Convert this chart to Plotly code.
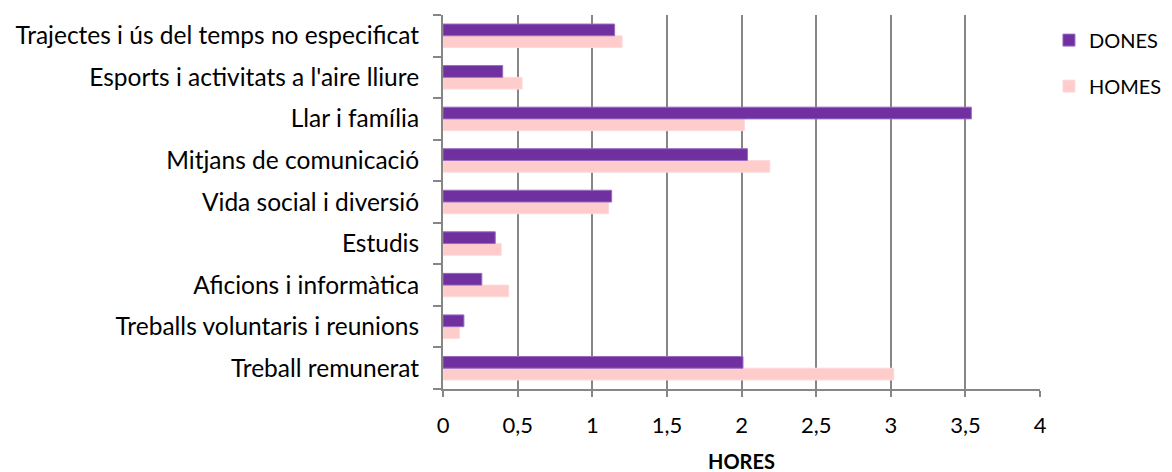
import plotly.graph_objects as go

categories = [
    "Treball remunerat",
    "Treballs voluntaris i reunions",
    "Aficions i informàtica",
    "Estudis",
    "Vida social i diversió",
    "Mitjans de comunicació",
    "Llar i família",
    "Esports i activitats a l'aire lliure",
    "Trajectes i ús del temps no especificat",
]
dones = [2.01, 0.14, 0.26, 0.35, 1.13, 2.04, 3.54, 0.40, 1.15]
homes = [3.02, 0.11, 0.44, 0.39, 1.11, 2.19, 2.02, 0.53, 1.20]
x_ticks = [0, 0.5, 1, 1.5, 2, 2.5, 3, 3.5, 4]
x_tick_labels = ["0", "0,5", "1", "1,5", "2", "2,5", "3", "3,5", "4"]

FONT = "Lato"
GRAY = "#868686"

fig = go.Figure()
fig.add_trace(go.Bar(
    y=categories, x=homes, name="HOMES", orientation="h",
    legendgroup="h", legendrank=2,
    marker=dict(color="#FFCCCC", line=dict(color="#FFDADA", width=1)),
))
fig.add_trace(go.Bar(
    y=categories, x=dones, name="DONES", orientation="h",
    legendgroup="d", legendrank=1,
    marker=dict(color="#7030A0", line=dict(color="#9A6BC0", width=1)),
))

fig.update_layout(
    width=1172, height=472,
    margin=dict(l=435, r=140, t=7, b=91, autoexpand=False),
    paper_bgcolor="white", plot_bgcolor="white",
    barmode="group", bargap=0.435, bargroupgap=0,
    font=dict(family=FONT, size=24, color="#000000"),
    showlegend=True,
    legend=dict(
        traceorder="grouped",
        x=1.015, y=0.985, xanchor="left", yanchor="top",
        font=dict(family=FONT, size=20),
        itemwidth=30, tracegroupgap=17,
        bgcolor="rgba(0,0,0,0)",
    ),
)
fig.update_xaxes(
    range=[0, 4], tickvals=x_ticks, ticktext=x_tick_labels,
    showgrid=True, gridcolor=GRAY, gridwidth=2,
    showline=True, linecolor=GRAY, linewidth=2,
    ticks="outside", ticklen=6, tickcolor=GRAY, tickwidth=2,
    tickfont=dict(family=FONT, size=22), ticklabelstandoff=10,
    title=dict(text="<b>HORES</b>", font=dict(family=FONT, size=20), standoff=18),
    zeroline=False, automargin=False,
)
fig.update_yaxes(
    type="category", categoryorder="array", categoryarray=categories,
    showline=True, linecolor=GRAY, linewidth=2,
    ticks="outside", ticklen=8, tickcolor=GRAY, tickwidth=2,
    tickson="boundaries", showgrid=False,
    tickfont=dict(family=FONT, size=24.5),
    ticklabelstandoff=17, automargin=False,
)

fig.write_html("out.html")
